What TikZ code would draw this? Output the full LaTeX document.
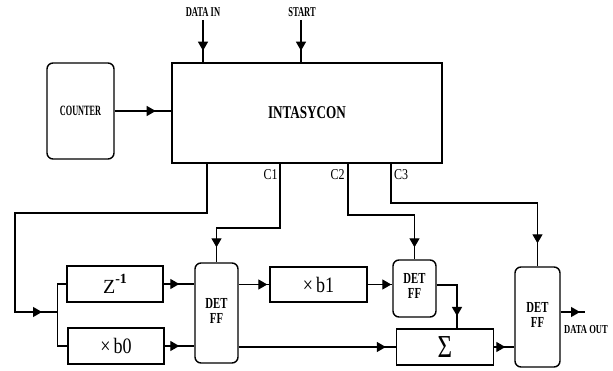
\documentclass[tikz,border=0pt]{standalone}
\usepackage{fontspec}
\setmainfont{Liberation Serif}
\usetikzlibrary{arrows.meta,decorations.markings}
\newcommand{\lbl}[3]{\scalebox{#1}[1]{\fontsize{#2}{#2}\selectfont\bfseries #3}}
\newcommand{\ffl}{\scalebox{0.7}[1]{\fontsize{15.3}{15}\selectfont\bfseries\begin{tabular}{@{}c@{}}DET\\FF\end{tabular}}}
\begin{document}
\begin{tikzpicture}[x=1pt,y=-1pt,
  line width=1.3pt,
  txt/.style={inner sep=0pt},
  box/.style={draw,line width=1.4pt,inner sep=0pt},
  rbox/.style={box,rounded corners=6pt},
  arr/.style={postaction={decorate,decoration={markings,mark=at position -#1 with {\arrow{Triangle[length=9pt,width=10pt]}}}}},
  arr/.default=12pt]
\useasboundingbox (0,0) rectangle (613,371);
% main boxes
\node[box,line width=2.6pt,minimum width=270pt,minimum height=100pt] (ints) at (307,113)
  {\lbl{0.73}{18}{INTASYCON}};
\node[rbox,minimum width=67pt,minimum height=96pt] (cnt) at (80.5,111) {\lbl{0.58}{14.2}{COUNTER}};
\node[box,minimum width=96pt,minimum height=36pt] (zb) at (115,284)
  {\fontsize{20}{20}\selectfont Z\raisebox{10pt}{\fontsize{14}{14}\selectfont\bfseries -1}};
\node[box,minimum width=96pt,minimum height=36pt] (b0) at (116,346)
  {\scalebox{0.82}[1]{\fontsize{22}{22}\selectfont ×\,b0}};
\node[rbox,minimum width=43pt,minimum height=100pt] (ff1) at (216.5,313) {\ffl};
\node[box,minimum width=97pt,minimum height=35pt] (b1) at (318.5,284.5)
  {\scalebox{0.82}[1]{\fontsize{22}{22}\selectfont ×\,b1}};
\node[rbox,minimum width=43pt,minimum height=57pt] (ff2) at (414.5,288.5) {\ffl};
\node[box,minimum width=97pt,minimum height=36pt] (sg) at (445,347)
  {\scalebox{0.78}[1]{\fontsize{32}{32}\selectfont Σ}};
\node[rbox,minimum width=45pt,minimum height=100pt] (ff3) at (537.5,317) {\ffl};
% text labels
\node[txt] (din) at (203,12) {\lbl{0.63}{13.5}{DATA IN}};
\node[txt] (st) at (302,12) {\lbl{0.63}{13.5}{START}};
\node[txt] (dout) at (586,330) {\lbl{0.7}{12.2}{DATA OUT}};
\node[txt] at (270.5,175) {\scalebox{0.8}[1]{\fontsize{15}{15}\selectfont C1}};
\node[txt] at (337.5,175) {\scalebox{0.8}[1]{\fontsize{15}{15}\selectfont C2}};
\node[txt] at (401,175) {\scalebox{0.8}[1]{\fontsize{15}{15}\selectfont C3}};
% coordinates
\coordinate (t0) at (207,163);
\coordinate (c1) at (280,163);
\coordinate (c2) at (348,163);
\coordinate (c3) at (391,163);
\coordinate (jn) at (58,312);
\coordinate (sgtop) at (457,329);
\coordinate (outend) at (585,312);
% connectors
\draw[arr=11pt] (din.south |- 0,20) -- (din.south |- ints.north);
\draw[arr=11pt] (301,20) coordinate (sttop) -- (sttop |- ints.north);
\draw[arr=15pt] (cnt.east) -- (cnt.east -| ints.west);
\draw[arr=16pt] (t0) -- ++(0,50) -- (15,213) |- (jn);
\draw (zb.west) -- ++(-9,0) |- (b0.west);
\draw[arr=15pt] (zb.east) -- (zb.east -| ff1.west);
\draw[arr=15pt] (b0.east) -- (b0.east -| ff1.west);
\draw[arr=15pt] (c1) -- ++(0,65) -| (ff1.north);
\draw[arr=2pt] (ff1.east |- b1.west) -- (b1.west);
\draw[arr=10pt] (ff1.east |- sg.west) -- (sg.west);
\draw[arr=12pt] (c2) -- ++(0,52) -| (ff2.north);
\draw[arr=1pt] (b1.east) -- (b1.east -| ff2.west);
\draw[arr=13pt] (ff2.east |- 0,285) -| (sgtop);
\draw[arr=9pt] (sg.east) -- (sg.east -| ff3.west);
\draw[arr=23pt] (c3) -- ++(0,40) -| (ff3.north);
\draw[arr=5pt] (ff3.east |- outend) -- (outend);
\end{tikzpicture}
\end{document}
